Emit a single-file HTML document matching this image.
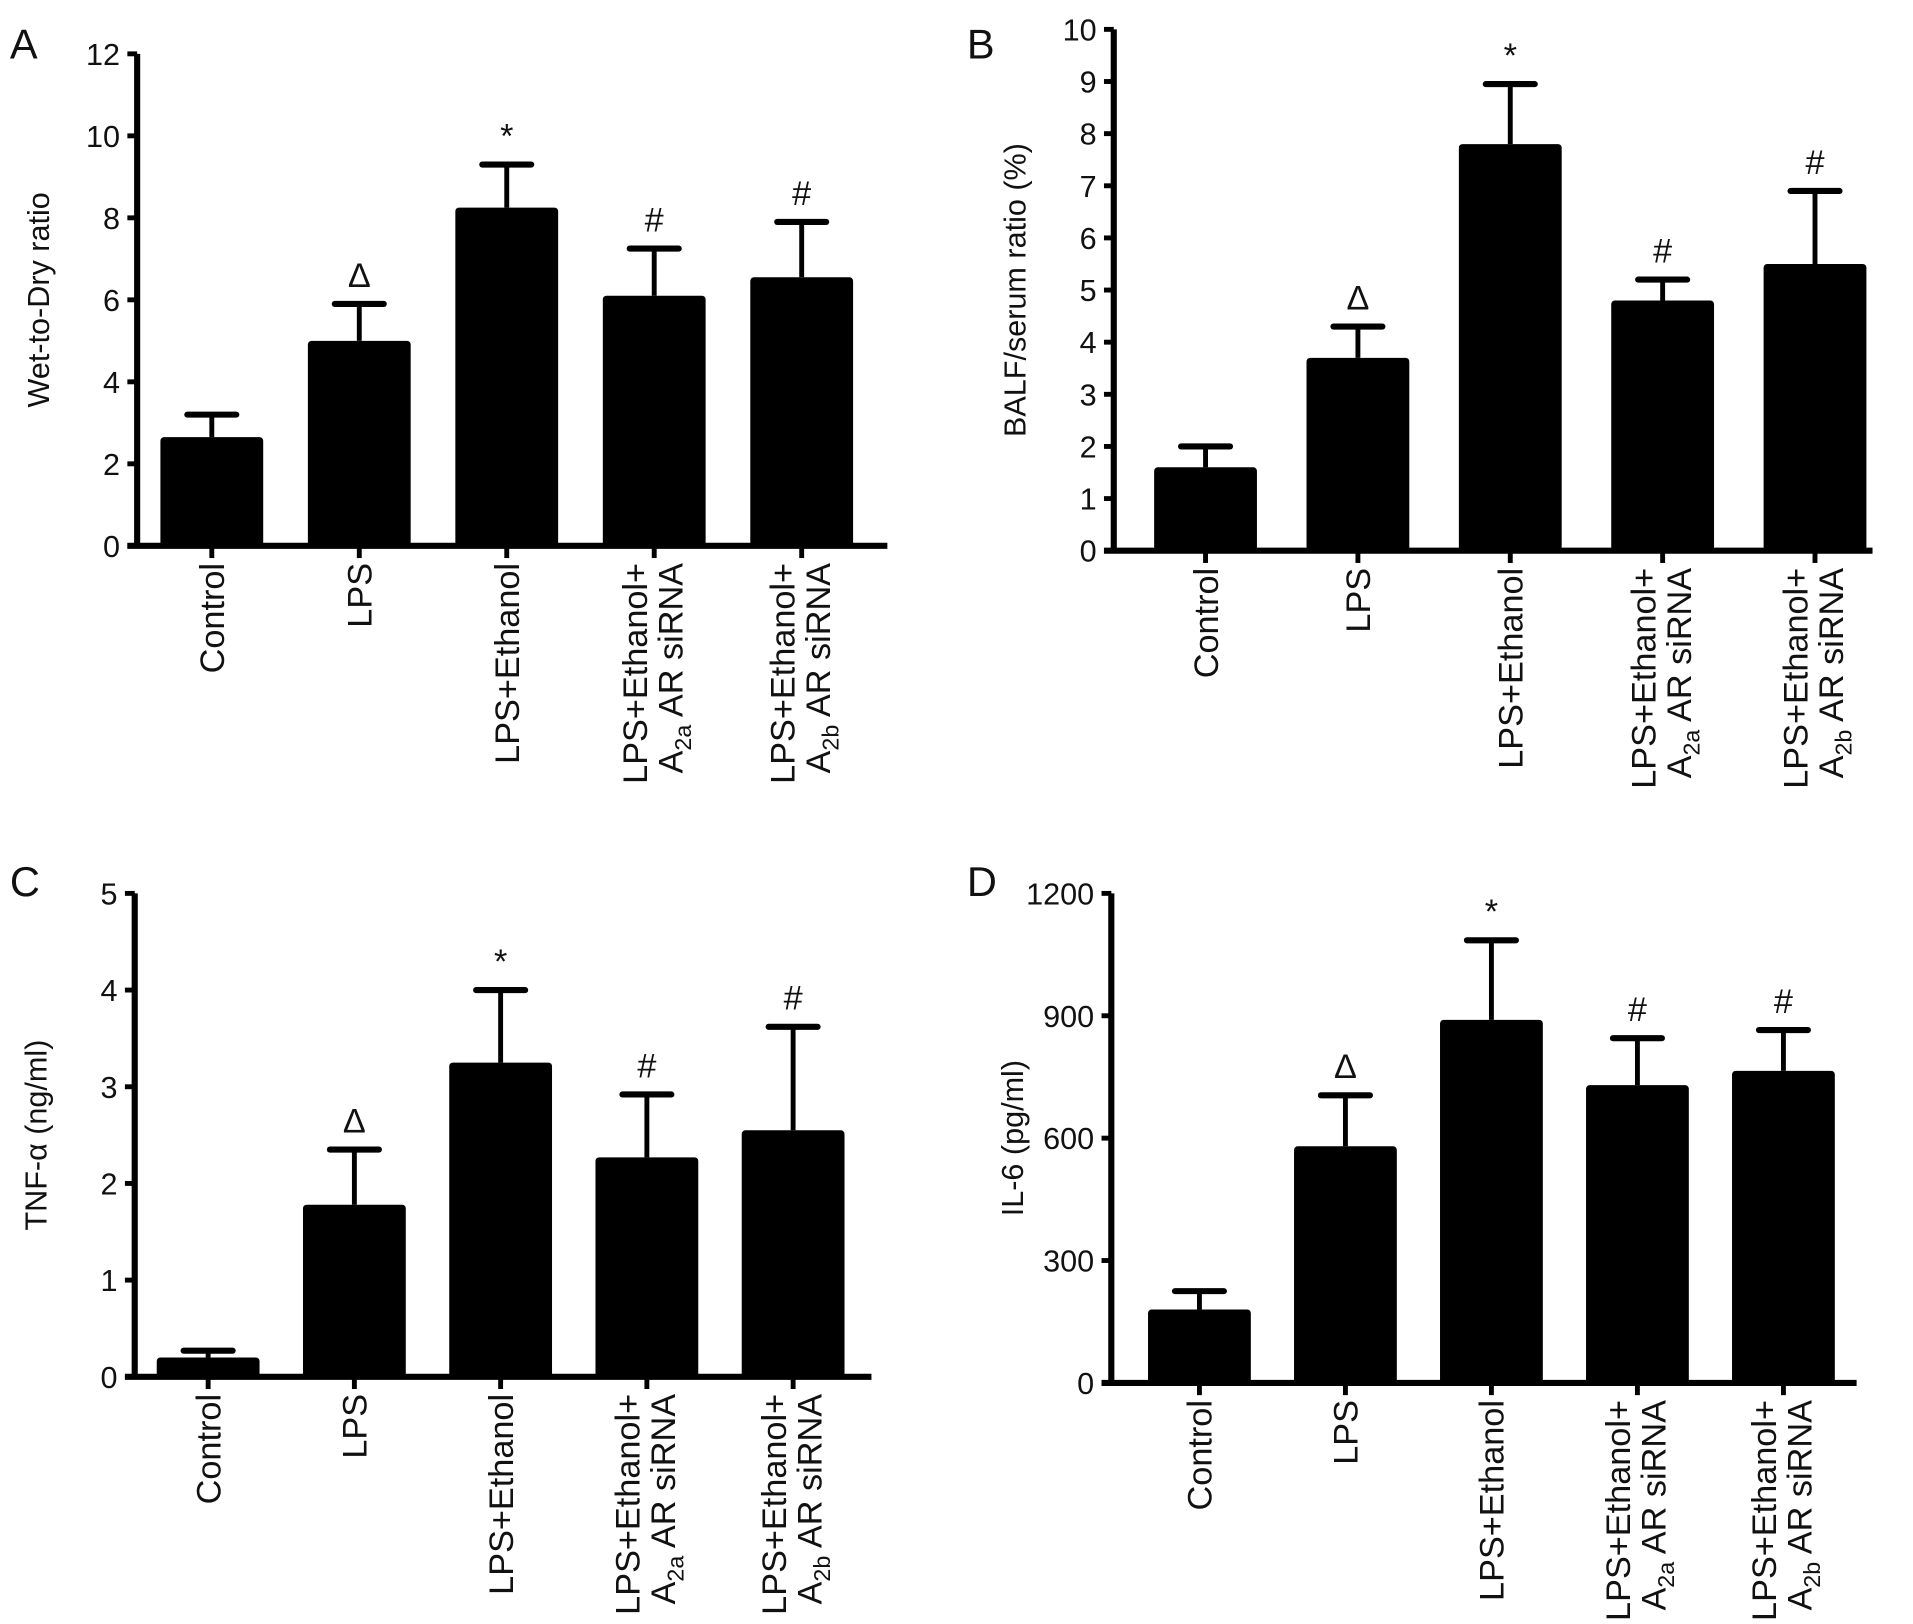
<!DOCTYPE html>
<html><head><meta charset="utf-8"><style>
html,body{margin:0;padding:0;background:#fff}
svg{display:block}
text{font-family:"Liberation Sans",Arial,sans-serif;fill:#111}
</style></head><body>
<svg id="fig" width="1913" height="1624" viewBox="0 0 1563 1327" xmlns="http://www.w3.org/2000/svg"></svg>
<script>
const categories = ["Control","LPS","LPS+Ethanol","A2a","A2b"];
const aMeans = [2.65,5.0,8.25,6.1,6.55];
const aUpper = [3.2,5.9,9.3,7.25,7.9];
const aTicks = [0,2,4,6,8,10,12];
const bMeans = [1.6,3.7,7.8,4.8,5.5];
const bUpper = [2.0,4.3,8.95,5.2,6.9];
const bTicks = [0,1,2,3,4,5,6,7,8,9,10];
const cMeans = [0.2,1.78,3.25,2.27,2.55];
const cUpper = [0.27,2.35,4.0,2.92,3.62];
const cTicks = [0,1,2,3,4,5];
const dMeans = [180,580,890,730,765];
const dUpper = [225,705,1085,845,865];
const dTicks = [0,300,600,900,1200];
const markers = ["","Δ","*","#","#"];

const NS="http://www.w3.org/2000/svg";
const svg=document.getElementById('fig');
function el(tag,attrs,parent,text){const e=document.createElementNS(NS,tag);for(const k in attrs)e.setAttribute(k,attrs[k]);if(text!==undefined)e.textContent=text;(parent||svg).appendChild(e);return e;}

function panel(cfg){
  const g=el('g',{});
  
  
  const max=cfg.ticks[cfg.ticks.length-1];
  const y=v=>cfg.y0-(v/max)*(cfg.y0-cfg.yTop);
  const x=i=>cfg.x0+cfg.first+i*cfg.step;
  const lt=el('text',{x:cfg.lx,y:cfg.ly,'font-size':34},g,cfg.letter);
  
  
  const yt=el('text',{transform:`translate(${cfg.x0-72},${(cfg.y0+cfg.yTop)/2}) rotate(-90)`,'text-anchor':'middle','font-size':25},g,cfg.title);
  
  
  cfg.means.forEach((m,i)=>{
    const cx=x(i),w=84;
    const eb=el('g',{},g);
    
    
    el('line',{x1:cx,x2:cx,y1:y(m),y2:y(cfg.upper[i]),stroke:'#000','stroke-width':4},eb);
    el('line',{x1:cx-20,x2:cx+20,y1:y(cfg.upper[i]),y2:y(cfg.upper[i]),stroke:'#000','stroke-width':5,'stroke-linecap':'round'},eb);
    const b=el('rect',{x:cx-w/2,y:y(m),width:w,height:cfg.y0-y(m),fill:'#000',rx:3},g);
    
    
    if(markers[i]){
      const mk=el('text',{x:cx,y:y(cfg.upper[i])-14,'text-anchor':'middle','font-size':28,'font-family':'Liberation Serif, serif'},g,markers[i]);
      
      
    }
    el('line',{x1:cx,x2:cx,y1:cfg.y0,y2:cfg.y0+10,stroke:'#000','stroke-width':4},g);
    const ly=cfg.y0+14;
    const mk2=(tx,txt,sub,rest)=>{
      const t=el('text',{transform:`translate(${tx},${ly}) rotate(-90)`,'text-anchor':'end','font-size':28},g);
      
      
      if(sub){el('tspan',{},t,'A');el('tspan',{'font-size':19,dy:7},t,sub);el('tspan',{dy:-7},t,rest);}
      else t.textContent=txt;
    };
    if(i<3) mk2(cx+10,categories[i]);
    else {mk2(cx-6,'LPS+Ethanol+'); mk2(cx+23,null,i===3?'2a':'2b',' AR siRNA');}
  });
  const ax=el('path',{d:`M${cfg.x0},${cfg.yTop} V${cfg.y0} M${cfg.x0-8},${cfg.y0} H${cfg.xEnd}`,stroke:'#000','stroke-width':5,fill:'none'},g);
  
  
  cfg.ticks.forEach(t=>{
    el('line',{x1:cfg.x0-8,x2:cfg.x0,y1:y(t),y2:y(t),stroke:'#000','stroke-width':4},g);
    const tl=el('text',{x:cfg.x0-14,y:y(t)+9,'text-anchor':'end','font-size':25},g,String(t));
    
    
  });
}
panel({letter:'A',lx:8,ly:48,title:'Wet-to-Dry ratio',x0:112,yTop:44,y0:446,xEnd:725,first:61,step:120.5,means:aMeans,upper:aUpper,ticks:aTicks});
panel({letter:'B',lx:790,ly:48,title:'BALF/serum ratio (%)',x0:910,yTop:24,y0:450,xEnd:1530,first:75,step:124.5,means:bMeans,upper:bUpper,ticks:bTicks});
panel({letter:'C',lx:8,ly:732,title:'TNF-α (ng/ml)',x0:110,yTop:730,y0:1125,xEnd:712,first:60,step:119.5,means:cMeans,upper:cUpper,ticks:cTicks});
panel({letter:'D',lx:790,ly:732,title:'IL-6 (pg/ml)',x0:908,yTop:730,y0:1130,xEnd:1517,first:72,step:119.3,means:dMeans,upper:dUpper,ticks:dTicks});
</script>
</body></html>
